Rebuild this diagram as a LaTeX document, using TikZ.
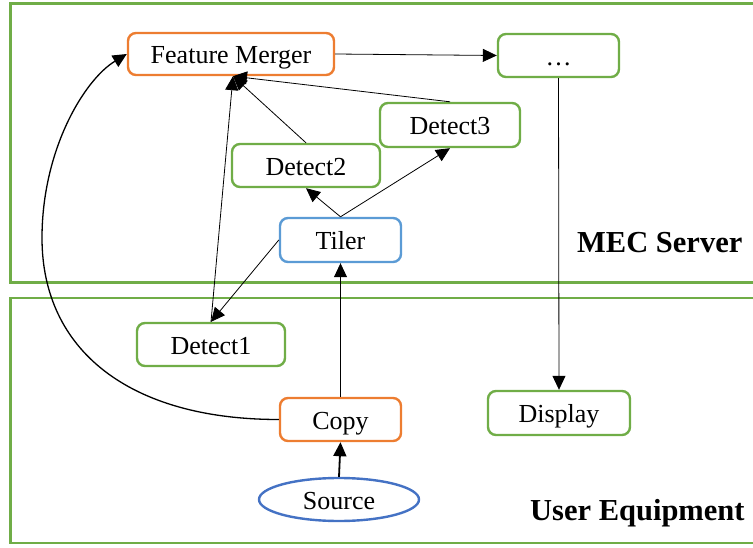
\documentclass[tikz,border=0pt]{standalone}
\usepackage{fontspec}
\setmainfont{Liberation Serif}
\usetikzlibrary{arrows.meta,shapes.geometric}

\definecolor{boxgreen}{HTML}{70AD47}
\definecolor{boxorange}{HTML}{ED7D31}
\definecolor{boxblue}{HTML}{5B9BD5}
\definecolor{srcblue}{HTML}{4472C4}

\tikzset{
  frame/.style={draw=boxgreen, line width=2.6pt},
  stage/.style={draw, rounded corners=8pt, line width=2.4pt, fill=white,
    inner sep=0pt, text height=21pt, text depth=1.5pt,
    font=\fontsize{26}{31}\selectfont},
  greenstage/.style={stage, draw=boxgreen},
  orangestage/.style={stage, draw=boxorange},
  bluestage/.style={stage, draw=boxblue},
  sourcenode/.style={ellipse, draw=srcblue, line width=2.4pt, inner sep=0pt,
    text height=21pt, text depth=1.5pt, font=\fontsize{26}{31}\selectfont},
  flow/.style={draw=black, line width=0.8pt, -{Triangle[length=14pt,width=13pt]}},
  region/.style={font=\fontsize{30.5}{36}\selectfont\bfseries, inner sep=0pt, anchor=base west}
}

\begin{document}
\begin{tikzpicture}[x=1pt, y=-1pt]
\useasboundingbox (0,0) rectangle (753,548);

% region frames, open on the right
\draw[frame] (760,3.5) -- (10.5,3.5) -- (10.5,282.5) -- (760,282.5);
\draw[frame] (760,298) -- (10.5,298) -- (10.5,543) -- (760,543);

\node[region] (mec) at (577,253) {MEC Server};
\node[region] (ue) at (530,520) {User Equipment};

% processing stages
\node[orangestage, minimum width=206pt, minimum height=42pt] (fm) at (231,54) {Feature Merger};
\node[greenstage, minimum width=121pt, minimum height=43pt] (dots) at (558.5,55.5) {…};
\node[greenstage, minimum width=140pt, minimum height=44pt] (d3) at (450,125) {Detect3};
\node[greenstage, minimum width=148pt, minimum height=43pt] (d2) at (306,165.5) {Detect2};
\node[bluestage, minimum width=121pt, minimum height=44pt] (tiler) at (340.5,240) {Tiler};
\node[greenstage, minimum width=148pt, minimum height=43pt] (d1) at (211,344.5) {Detect1};
\node[orangestage, minimum width=121pt, minimum height=43pt] (copy) at (340.5,419.5) {Copy};
\node[sourcenode, minimum width=160pt, minimum height=43pt] (src) at (339,499.5) {Source};
\node[greenstage, minimum width=142pt, minimum height=44pt] (disp) at (559,413) {Display};

% data flow
\draw[flow, line width=1.8pt] (src.north) -- (copy.south);
\draw[flow] (copy.north) -- (tiler.south);
\draw[flow] (tiler.north) -- (d2.south);
\draw[flow] (tiler.north) -- (d3.south);
\draw[flow] (tiler.west) -- (d1.north);
\draw[flow] (d3.north) -- ([xshift=2pt]fm.south);
\draw[flow] (d2.north) -- ([xshift=2pt]fm.south);
\draw[flow] (d1.north) -- ([xshift=2pt]fm.south);
\draw[flow] (fm.east) -- (dots.west);
\draw[flow] (dots.south) -- (disp.north);
\draw[flow, line width=1.3pt] (copy.west) .. controls (129,419.5) and (42,350) .. (42,238)
  .. controls (42,150) and (84,80) .. (fm.west);
\end{tikzpicture}
\end{document}
